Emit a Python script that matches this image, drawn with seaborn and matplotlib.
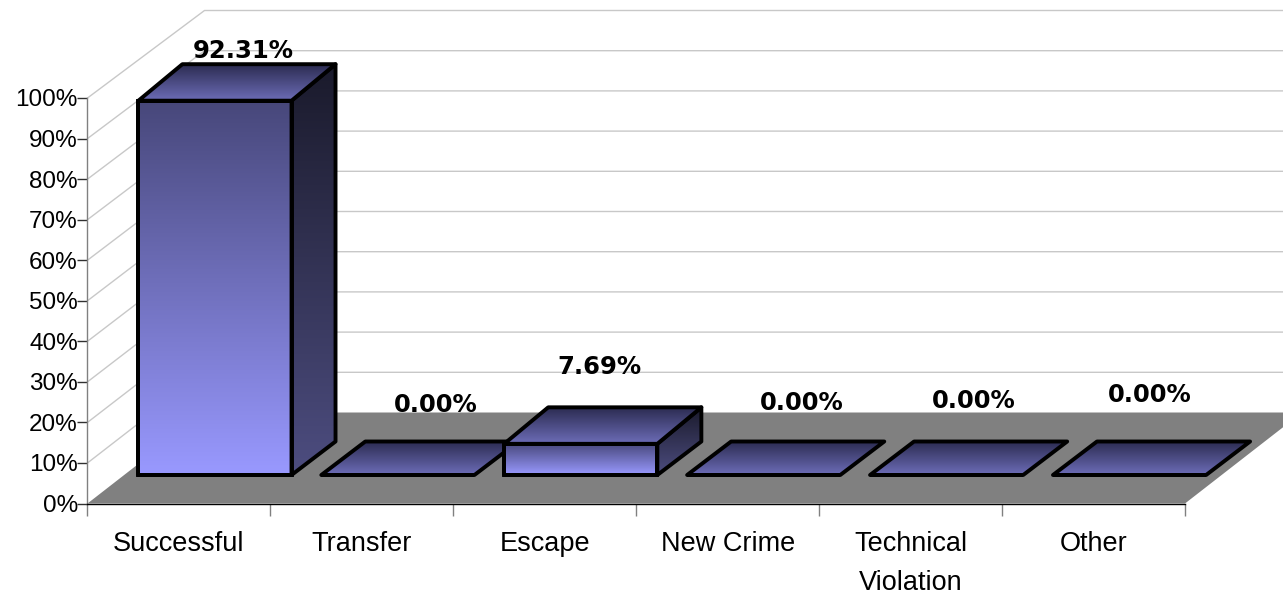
import numpy as np
import pandas as pd
import seaborn as sns
from matplotlib import pyplot as plt
from matplotlib.colors import LinearSegmentedColormap
from matplotlib.patches import Polygon
from matplotlib.transforms import Affine2D

categories = ["Successful", "Transfer", "Escape", "New Crime", "Technical\nViolation", "Other"]
percents = [92.31, 0.00, 7.69, 0.00, 0.00, 0.00]
y_ticks = [0, 10, 20, 30, 40, 50, 60, 70, 80, 90, 100]
# hand placed data labels in the original, offset from the back of each bar top (px)
label_dx = [-16, -6, -25, -6, -17, -24]
label_dy = [-13, -36, -40, -39, -41, -46]

W, H = 1283, 595
AX_LEFT, AX_RIGHT, AX_TOP, AX_BOTTOM = 87.5, 1185, 98, 503.5
FLOOR_DX, FLOOR_DY = 117, 91
BAR_SHIFT = (36, 28.5)
BAR_DX = 44
BAR_DY_BOTTOM, BAR_DY_TOP = 33.5, 36.5
EDGE = 2.8

front_cmap = LinearSegmentedColormap.from_list("front", ["#47477A", "#9999FF"])
side_cmap = LinearSegmentedColormap.from_list("side", ["#1A1A2B", "#4D4D80"])
top_cmap = LinearSegmentedColormap.from_list("top", ["#2B2B50", "#6D6DB8"])

sns.set_style("white")
plt.rcParams["font.family"] = ["Liberation Sans", "DejaVu Sans"]
plt.rcParams["text.color"] = "black"

fig = plt.figure(figsize=(W / 100, H / 100), dpi=100)

# overlay in pixels for the fake 3D faces, sits below the real axes
px = fig.add_axes([0, 0, 1, 1], zorder=0)
px.set_xlim(0, W)
px.set_ylim(H, 0)
px.axis("off")

ax = fig.add_axes([AX_LEFT / W, (H - AX_BOTTOM) / H, (AX_RIGHT - AX_LEFT) / W, (AX_BOTTOM - AX_TOP) / H], zorder=1)
ax.patch.set_visible(False)

df = pd.DataFrame({"Outcome": categories, "Percent": percents})
sns.barplot(data=df, x="Outcome", y="Percent", width=153 / 182.75, fill=False,
            edgecolor="black", linewidth=EDGE, ax=ax)
ax.set_xlim(-0.5, 5.5)
ax.set_ylim(0, 100)
ax.set_xlabel("")
ax.set_ylabel("")
ax.set_yticks(y_ticks)
ax.set_yticklabels([f"{t}%" for t in y_ticks], fontsize=17.5)
ax.set_xticks(np.arange(-0.5, 6), minor=True)
ax.tick_params(axis="x", which="major", length=0, pad=19.5, labelsize=19.5, labelcolor="black")
ax.tick_params(axis="x", which="minor", bottom=True, length=8.5, width=1, color="#808080")
ax.tick_params(axis="y", which="major", left=True, length=7, width=1, color="#303030", pad=0, labelcolor="black")
for lab in ax.get_xticklabels():
    lab.set_linespacing(1.66)
sns.despine(ax=ax)
ax.spines["left"].set_color("#808080")
ax.spines["bottom"].set_color("black")
ax.spines["left"].set_linewidth(1)
ax.spines["bottom"].set_linewidth(1)


def to_px(x, y):
    return px.transData.inverted().transform(ax.transData.transform((x, y)))


def back_y(value):
    # back wall is slightly shorter than the axis
    return AX_BOTTOM - FLOOR_DY - value * 4.02


def shade(verts, cmap):
    # vertical gradient clipped to a face
    verts = np.array(verts)
    grad = np.linspace(0, 1, 256).reshape(-1, 1)
    im = px.imshow(grad, cmap=cmap, aspect="auto", zorder=3,
                   extent=(verts[:, 0].min(), verts[:, 0].max(), verts[:, 1].max(), verts[:, 1].min()))
    patch = Polygon(verts, closed=True, transform=px.transData, fc="none", ec="none")
    px.add_patch(patch)
    im.set_clip_path(patch)
    px.add_patch(Polygon(verts, closed=True, fc="none", ec="black", lw=EDGE, joinstyle="round", zorder=3))


# floor and walls
px.add_patch(Polygon([(AX_LEFT, AX_BOTTOM), (AX_RIGHT, AX_BOTTOM),
                      (AX_RIGHT + FLOOR_DX, AX_BOTTOM - FLOOR_DY), (AX_LEFT + FLOOR_DX, AX_BOTTOM - FLOOR_DY)],
                     closed=True, fc="#808080", ec="none", zorder=1))
for t in y_ticks[1:]:
    _, y = to_px(0, t)
    px.plot([AX_LEFT, AX_LEFT + FLOOR_DX, W], [y, back_y(t), back_y(t)], color="#C8C8C8", lw=1, zorder=2)

# faces behind the seaborn bars
shift = Affine2D().translate(*BAR_SHIFT)
for i, bar in enumerate(ax.patches):
    bar.set_transform(ax.transData + shift)
    bar.set_clip_on(False)
    bar.set_joinstyle("miter")
    x0, y0 = to_px(bar.get_x(), 0)
    x1, y1 = to_px(bar.get_x() + bar.get_width(), bar.get_height())
    x0, x1 = x0 + BAR_SHIFT[0], x1 + BAR_SHIFT[0]
    y0, y1 = y0 - BAR_SHIFT[1], y1 - BAR_SHIFT[1]
    top_dy = BAR_DY_BOTTOM
    if bar.get_height() > 0:
        top_dy = BAR_DY_TOP
        shade([(x0, y1), (x1, y1), (x1, y0), (x0, y0)], front_cmap)
        shade([(x1, y1), (x1 + BAR_DX, y1 - top_dy), (x1 + BAR_DX, y0 - BAR_DY_BOTTOM), (x1, y0)], side_cmap)
    shade([(x0, y1), (x1, y1), (x1 + BAR_DX, y1 - top_dy), (x0 + BAR_DX, y1 - top_dy)], top_cmap)
    px.text(x0 + BAR_DX + (x1 - x0) / 2 + label_dx[i], y1 - top_dy + label_dy[i], f"{percents[i]:.2f}%",
            ha="center", va="center", fontsize=17.5, fontweight="bold", family=["DejaVu Sans"],
            color="black", zorder=5)

px.set_xlim(0, W)
px.set_ylim(H, 0)

fig.savefig("out.png", dpi=100, facecolor="white")
